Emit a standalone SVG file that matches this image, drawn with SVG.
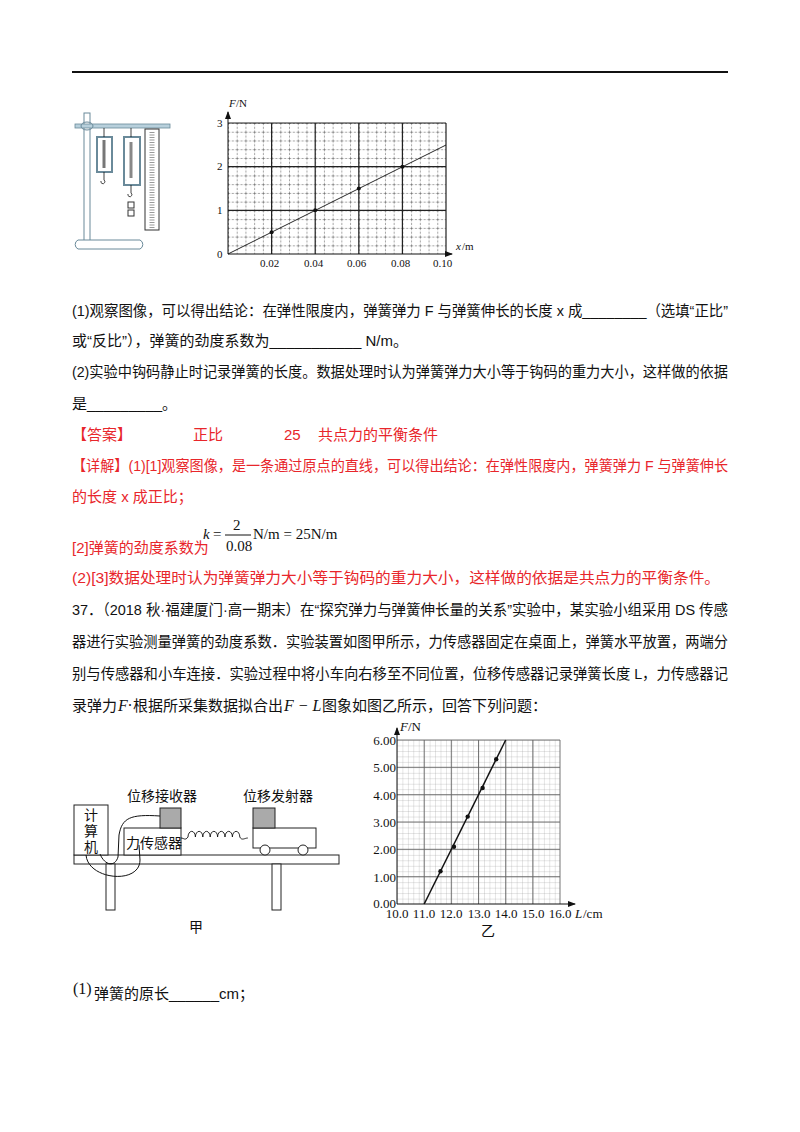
<svg xmlns="http://www.w3.org/2000/svg" width="800" height="1132" viewBox="0 0 800 1132">
<defs>
<style>
.t{font-family:"Liberation Sans","Noto Sans CJK SC",sans-serif;font-size:15px;fill:#111}
.r{fill:#e8262b}
.m{font-family:"Liberation Serif","Noto Sans CJK SC",serif;font-size:11px;fill:#111}
.ln{stroke:#111;fill:none}
</style>
<pattern id="g1" patternUnits="userSpaceOnUse" x="228" y="123" width="8.72" height="8.74">
<path d="M0,0V8.74M0,0H8.72" stroke="#222" stroke-width="0.8" stroke-dasharray="2.2,1.5" fill="none"/>
</pattern>
<pattern id="g2" patternUnits="userSpaceOnUse" x="397" y="740" width="5.44" height="5.47">
<path d="M0,0V5.47M0,0H5.44" stroke="#999" stroke-width="0.5" fill="none"/>
</pattern>
<marker id="ar" markerWidth="8" markerHeight="8" refX="7" refY="4" orient="auto" markerUnits="userSpaceOnUse"><path d="M0,1L8,4L0,7z" fill="#111"/></marker>
</defs>
<rect width="800" height="1132" fill="#fff"/>
<line x1="72" y1="72" x2="728" y2="72" stroke="#111" stroke-width="2"/>

<g id="apparatus">
<rect x="84" y="113" width="6" height="132" fill="#fff" stroke="#6a8a9a"/>
<path d="M78,240H140a5,5 0 0 1 0,9H78a5,5 0 0 1 0,-9z" fill="#fff" stroke="#6a8a9a"/>
<rect x="75" y="124" width="95" height="4" fill="#b8d0dc" stroke="#6a8a9a" stroke-width="0.8"/>
<ellipse cx="87" cy="126" rx="6" ry="4" fill="none" stroke="#6a8a9a"/>
<rect x="97" y="137" width="15" height="35" fill="#fff" stroke="#6a8a9a" stroke-width="2"/>
<line x1="104" y1="140" x2="104" y2="168" stroke="#777" stroke-width="3"/>
<path d="M104,128V137M104,172v8a2,2 0 1 1 -3,1" class="ln" stroke-width="0.8"/>
<rect x="124" y="137" width="16" height="48" fill="#fff" stroke="#6a8a9a" stroke-width="2"/>
<line x1="131" y1="142" x2="131" y2="178" stroke="#888" stroke-width="3"/>
<path d="M131,128V137M131,185v8a2,2 0 1 1 -3,1" class="ln" stroke-width="0.8"/>
<rect x="128" y="202" width="6" height="6" fill="#fff" stroke="#333"/>
<rect x="128" y="210" width="6" height="6" fill="#fff" stroke="#333"/>
<rect x="145" y="129" width="14" height="101" fill="#fff" stroke="#333"/>
<line x1="152" y1="132" x2="152" y2="228" stroke="#999" stroke-width="5" stroke-dasharray="1,1.5"/>
</g>

<g id="graph1">
<rect x="228" y="123" width="218" height="131" fill="url(#g1)"/>
<path d="M271.6,123V254M315.2,123V254M358.8,123V254M402.4,123V254M446,123V254M228,123H446M228,166.7H446M228,210.3H446" stroke="#222" stroke-width="1.2"/>
<path d="M228,254H452" class="ln" marker-end="url(#ar)"/>
<path d="M228,254V112" class="ln" marker-end="url(#ar)"/>
<path d="M228,254L446,145" class="ln" stroke-width="0.9"/>
<g fill="#111"><circle cx="271.6" cy="232.2" r="2"/><circle cx="315.2" cy="210.3" r="2"/><circle cx="358.8" cy="188.5" r="2"/><circle cx="402.4" cy="166.7" r="2"/></g>
<text class="m" x="229" y="107" font-style="italic">F</text><text class="m" x="236" y="107">/N</text>
<text class="m" x="217" y="127">3</text><text class="m" x="217" y="170">2</text><text class="m" x="217" y="214">1</text><text class="m" x="217" y="258">0</text>
<text class="m" x="260" y="267">0.02</text><text class="m" x="304" y="267">0.04</text><text class="m" x="347" y="267">0.06</text><text class="m" x="391" y="267">0.08</text><text class="m" x="433" y="267">0.10</text>
<text class="m" x="456" y="250" font-style="italic">x</text><text class="m" x="462" y="250">/m</text>
</g>

<g id="text1">
<text class="t" x="72" y="316" textLength="656" lengthAdjust="spacingAndGlyphs">(1)观察图像，可以得出结论：在弹性限度内，弹簧弹力 F 与弹簧伸长的长度 x 成________（选填“正比”</text>
<text class="t" x="72" y="346">或“反比”），弹簧的劲度系数为___________ N/m。</text>
<text class="t" x="72" y="377" textLength="656" lengthAdjust="spacingAndGlyphs">(2)实验中钩码静止时记录弹簧的长度。数据处理时认为弹簧弹力大小等于钩码的重力大小，这样做的依据</text>
<text class="t" x="72" y="409">是_________。</text>
<text class="t r" x="72" y="440">【答案】</text>
<text class="t r" x="193" y="440">正比</text>
<text class="t r" x="284" y="440">25</text>
<text class="t r" x="318" y="440">共点力的平衡条件</text>
<text class="t r" x="72" y="471" textLength="656" lengthAdjust="spacingAndGlyphs">【详解】(1)[1]观察图像，是一条通过原点的直线，可以得出结论：在弹性限度内，弹簧弹力 F 与弹簧伸长</text>
<text class="t r" x="72" y="502">的长度 x 成正比；</text>
<text class="t r" x="72" y="553">[2]弹簧的劲度系数为</text>
<g font-family="Liberation Serif,serif" font-size="15" fill="#111">
<text x="203" y="539" font-style="italic">k</text><text x="213" y="539">=</text>
<text x="233" y="530">2</text><line x1="225" y1="535" x2="251" y2="535" stroke="#111"/><text x="226" y="551">0.08</text>
<text x="253" y="539">N/m = 25N/m</text>
</g>
<text class="t r" x="72" y="583" textLength="648" lengthAdjust="spacingAndGlyphs">(2)[3]数据处理时认为弹簧弹力大小等于钩码的重力大小，这样做的依据是共点力的平衡条件。</text>
<text class="t" x="72" y="615" textLength="656" lengthAdjust="spacingAndGlyphs">37．（2018 秋·福建厦门·高一期末）在“探究弹力与弹簧伸长量的关系”实验中，某实验小组采用 DS 传感</text>
<text class="t" x="72" y="647" textLength="656" lengthAdjust="spacingAndGlyphs">器进行实验测量弹簧的劲度系数．实验装置如图甲所示，力传感器固定在桌面上，弹簧水平放置，两端分</text>
<text class="t" x="72" y="679" textLength="656" lengthAdjust="spacingAndGlyphs">别与传感器和小车连接．实验过程中将小车向右移至不同位置，位移传感器记录弹簧长度 L，力传感器记</text>
<text class="t" x="72" y="711">录弹力</text>
<text x="118" y="711" font-family="Liberation Serif,serif" font-style="italic" font-size="16" fill="#111">F·</text>
<text class="t" x="133" y="711">根据所采集数据拟合出</text>
<text x="284" y="711" font-family="Liberation Serif,serif" font-style="italic" font-size="16" fill="#111">F − L</text>
<text class="t" x="322" y="711">图象如图乙所示，回答下列问题：</text>
</g>

<g id="fig-jia" font-family="Noto Sans CJK SC,sans-serif" font-size="14" fill="#111">
<rect x="74" y="855" width="265" height="9" fill="#fff" stroke="#222"/>
<rect x="106" y="864" width="9" height="46" fill="#fff" stroke="#222"/>
<rect x="272" y="864" width="9" height="46" fill="#fff" stroke="#222"/>
<rect x="74" y="805" width="34" height="50" fill="#fff" stroke="#222"/>
<text x="84" y="820">计</text><text x="84" y="836">算</text><text x="84" y="852">机</text>
<rect x="124" y="828" width="57" height="27" fill="#fff" stroke="#222"/>
<text x="126" y="848">力传感器</text>
<rect x="160" y="808" width="21" height="20" fill="#aaa" stroke="#222"/>
<path d="M160,816C130,814 122,818 119,835L118,857C115,867 105,866 100,854" class="ln"/>
<path d="M86,855C88,880 140,885 140,860L139,845" class="ln"/>
<path d="M181,838c3,0 4,3 7,-1 a3.6,5.5 0 1 1 7.4,0a3.6,5.5 0 1 1 7.4,0a3.6,5.5 0 1 1 7.4,0a3.6,5.5 0 1 1 7.4,0a3.6,5.5 0 1 1 7.4,0a3.6,5.5 0 1 1 7.4,0a3.6,5.5 0 1 1 7.4,0 c2,4 5,1 8,1" class="ln" stroke-width="0.9"/>
<rect x="253" y="828" width="63" height="20" fill="#fff" stroke="#222"/>
<rect x="253" y="808" width="22" height="20" fill="#aaa" stroke="#222"/>
<circle cx="265" cy="850" r="5" fill="#fff" stroke="#222"/>
<circle cx="303" cy="850" r="5" fill="#fff" stroke="#222"/>
<text x="127" y="801">位移接收器</text>
<text x="243" y="801">位移发射器</text>
<text x="189" y="932">甲</text>
</g>

<g id="graph2" font-family="Liberation Serif,serif" font-size="13" fill="#111">
<rect x="397" y="740" width="163" height="164" fill="url(#g2)"/>
<path d="M424.2,740V904M451.3,740V904M478.5,740V904M505.7,740V904M532.8,740V904M560,740V904M397,740H560M397,767.3H560M397,794.7H560M397,822H560M397,849.3H560M397,876.7H560" stroke="#666" stroke-width="0.9"/>
<path d="M397,904H575" class="ln" marker-end="url(#ar)"/>
<path d="M397,904V728" class="ln" marker-end="url(#ar)"/>
<path d="M424.2,904L505.7,740" class="ln" stroke-width="1.5"/>
<g><circle cx="440.5" cy="871.2" r="2.2"/><circle cx="454" cy="846.7" r="2.2"/><circle cx="467.7" cy="816.6" r="2.2"/><circle cx="482.6" cy="788" r="2.2"/><circle cx="496.2" cy="759.3" r="2.2"/></g>
<text x="400" y="731" font-style="italic">F</text><text x="408" y="731">/N</text>
<g text-anchor="end"><text x="396" y="745">6.00</text><text x="396" y="772">5.00</text><text x="396" y="800">4.00</text><text x="396" y="827">3.00</text><text x="396" y="854">2.00</text><text x="396" y="882">1.00</text><text x="396" y="908">0.00</text></g>
<g text-anchor="middle"><text x="397" y="918">10.0</text><text x="424" y="918">11.0</text><text x="451" y="918">12.0</text><text x="479" y="918">13.0</text><text x="506" y="918">14.0</text><text x="533" y="918">15.0</text><text x="560" y="918">16.0</text></g>
<text x="575" y="918" font-style="italic">L</text><text x="583" y="918">/cm</text>
<text x="481" y="936" font-family="Noto Sans CJK SC,sans-serif" font-size="14">乙</text>
</g>

<text x="73" y="994" font-family="Liberation Serif,serif" font-size="16" fill="#111">(1)</text>
<text class="t" x="94" y="999" font-size="14">弹簧的原长______cm；</text>
</svg>
